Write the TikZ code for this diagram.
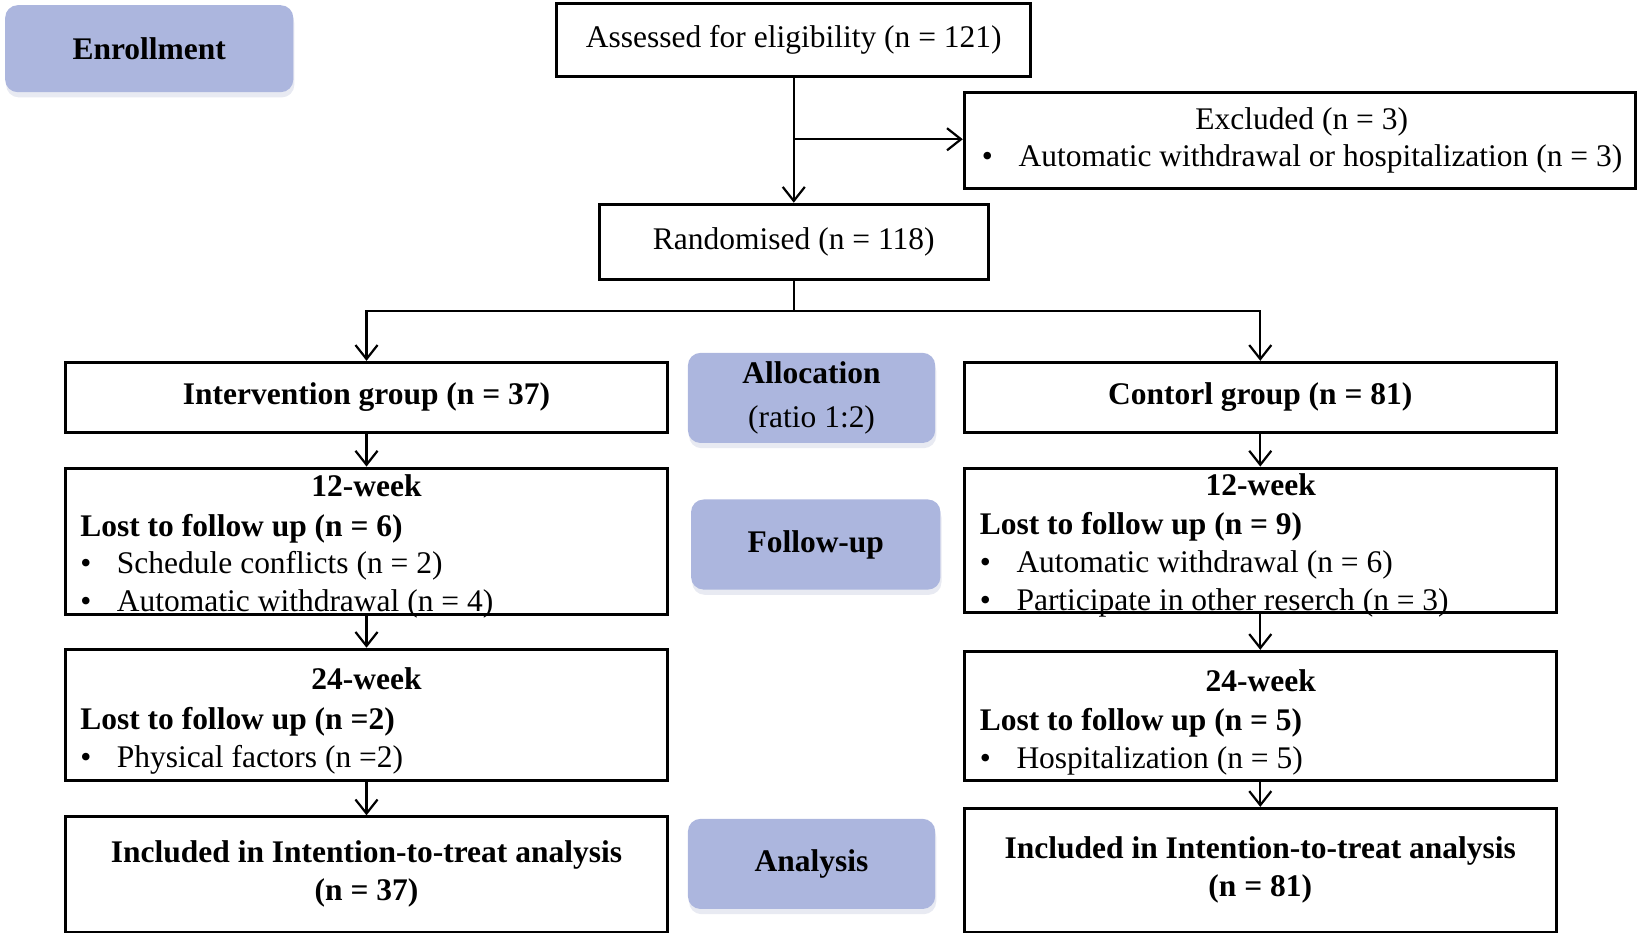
\documentclass[tikz,border=0pt]{standalone}
\usepackage{fontspec}
\setmainfont{Liberation Serif}
\usetikzlibrary{arrows.meta,shadows}

\definecolor{stagefill}{RGB}{172,182,222}
\newcommand{\chartsize}{\fontsize{8.55pt}{10.3pt}\selectfont}
\newcommand{\bul}{\makebox[0.35cm][l]{\textbullet}}

\tikzset{
  box/.style={draw, line width=0.8pt, inner sep=0pt},
  bold/.style={font=\chartsize\bfseries},
  stage/.style={fill=stagefill, rounded corners=0.12cm, inner sep=0pt, bold,
    drop shadow={shadow xshift=0.01cm, shadow yshift=-0.05cm, opacity=0.25, fill=stagefill!80!gray}},
  arr/.style={-{Straight Barb[length=3.8pt,width=6pt]}, line width=0.6pt},
  list/.style={anchor=north west, align=left, inner sep=0pt},
}

\begin{document}
\begin{tikzpicture}[x=0.01cm, y=-0.01cm, font=\chartsize]
\useasboundingbox (0,0) rectangle (1568,898);

% stage labels
\node[stage, minimum width=2.75cm, minimum height=0.83cm] (enrol) at (142.5,46.5) {Enrollment};
\node[stage, minimum width=2.36cm, minimum height=0.86cm, align=center] (alloc) at (775,380) {Allocation\\[1.4pt]\mdseries(ratio 1:2)};
\node[stage, minimum width=2.38cm, minimum height=0.86cm] (follow) at (779,520) {Follow-up};
\node[stage, minimum width=2.36cm, minimum height=0.86cm] (ana) at (775,825) {Analysis};

% enrollment
\node[box, minimum width=4.52cm, minimum height=0.70cm] (assess) at (758,38) {Assessed for eligibility (n = 121)};
\node[box, minimum width=6.41cm, minimum height=0.92cm] (excl) at (1241.5,134) {};
\node (exclhead) at (1243,116) {Excluded (n = 3)};
\node[anchor=west, inner sep=0pt] (exclitem) at (937,152) {\bul Automatic withdrawal or hospitalization (n = 3)};
\node[box, minimum width=3.71cm, minimum height=0.72cm] (rand) at (758,231) {Randomised (n = 118)};

% allocation
\node[box, bold, minimum width=5.74cm, minimum height=0.67cm] (intv) at (350,379.5) {Intervention group (n = 37)};
\node[box, bold, minimum width=5.65cm, minimum height=0.67cm] (ctrl) at (1203.5,379.5) {Contorl group (n = 81)};

% follow-up, intervention
\node[box, minimum width=5.74cm, minimum height=1.40cm] (iw12) at (350,517) {};
\node[bold] (iw12head) at (350,464) {12-week};
\node[list] (iw12list) at (76,490) {\textbf{Lost to follow up (n = 6)}\\
  \bul Schedule conflicts (n = 2)\\
  \bul Automatic withdrawal (n = 4)};
\node[box, minimum width=5.74cm, minimum height=1.25cm] (iw24) at (350,682.5) {};
\node[bold] (iw24head) at (350,648) {24-week};
\node[list] (iw24list) at (76,675) {\textbf{Lost to follow up (n =2)}\\
  \bul Physical factors (n =2)};

% follow-up, control
\node[box, minimum width=5.65cm, minimum height=1.38cm] (cw12) at (1203.5,516) {};
\node[bold] (cw12head) at (1204,463) {12-week};
\node[list] (cw12list) at (935,489) {\textbf{Lost to follow up (n = 9)}\\
  \bul Automatic withdrawal (n = 6)\\
  \bul Participate in other reserch (n = 3)};
\node[box, minimum width=5.65cm, minimum height=1.23cm] (cw24) at (1203.5,683.5) {};
\node[bold] (cw24head) at (1204,650) {24-week};
\node[list] (cw24list) at (935,676) {\textbf{Lost to follow up (n = 5)}\\
  \bul Hospitalization (n = 5)};

% analysis
\node[box, bold, align=center, minimum width=5.74cm, minimum height=1.10cm] (iinc) at (350,835) {Included in Intention-to-treat analysis\\(n = 37)};
\node[box, bold, align=center, minimum width=5.65cm, minimum height=1.18cm] (cinc) at (1203.5,831) {Included in Intention-to-treat analysis\\(n = 81)};

% connectors
\coordinate (exclsplit) at (758,133);
\coordinate (split) at (758,297);
\draw[arr] (assess) -- (rand);
\draw[arr] (exclsplit) -- (exclsplit -| excl.west);
\draw[line width=0.6pt] (rand) -- (split);
\draw[arr] (split) -| (intv);
\draw[arr] (split) -| (ctrl);
\draw[arr] (intv) -- (iw12);
\draw[arr] (iw12) -- (iw24);
\draw[arr] (iw24) -- (iinc);
\draw[arr] (ctrl) -- (cw12);
\draw[arr] (cw12) -- (cw24);
\draw[arr] (cw24) -- (cinc);

\end{tikzpicture}
\end{document}
